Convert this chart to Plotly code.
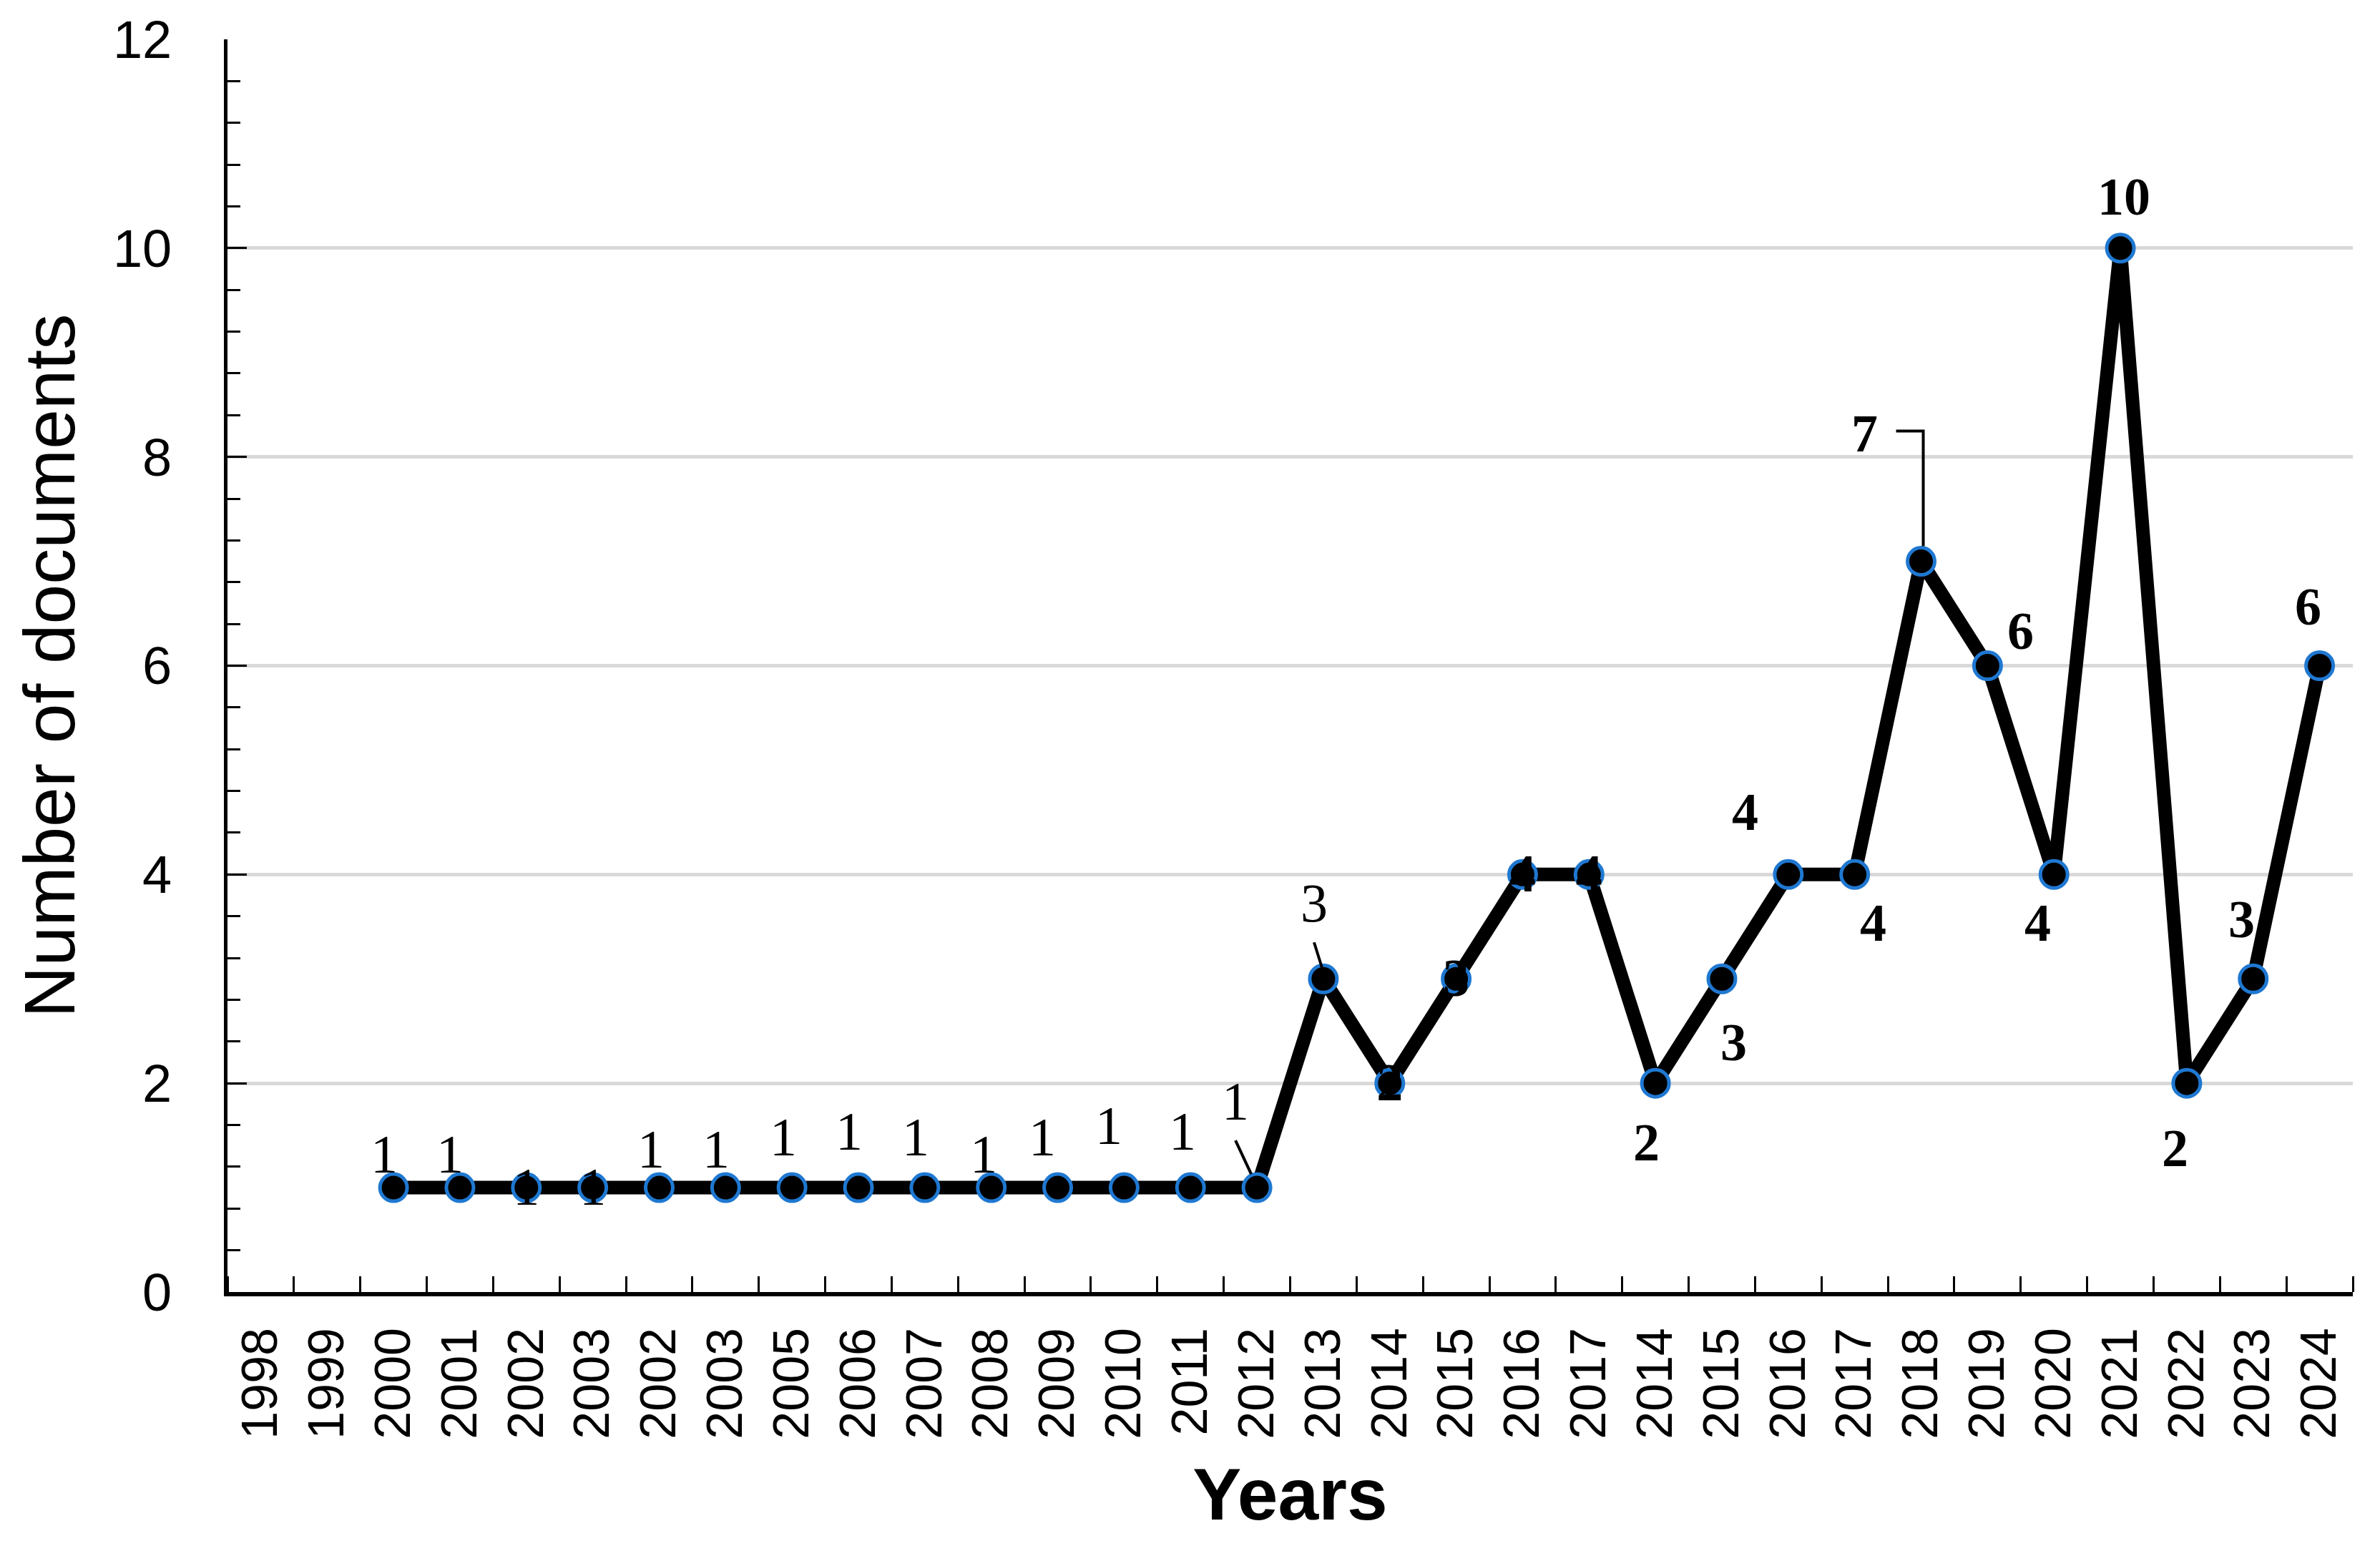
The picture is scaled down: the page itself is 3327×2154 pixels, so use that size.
import plotly.graph_objects as go

# ---------------- data ----------------
year_labels = ["1998", "1999", "2000", "2001", "2002", "2003", "2002", "2003",
               "2005", "2006", "2007", "2008", "2009", "2010", "2011", "2012",
               "2013", "2014", "2015", "2016", "2017", "2014", "2015", "2016",
               "2017", "2018", "2019", "2020", "2021", "2022", "2023", "2024"]
documents = [None, None, 1, 1, 1, 1, 1, 1, 1, 1, 1, 1, 1, 1, 1, 1,
             3, 2, 3, 4, 4, 2, 3, 4, 4, 7, 6, 4, 10, 2, 3, 6]
y_ticks = [0, 2, 4, 6, 8, 10, 12]

# ---------------- label styling (pixel offsets, screen coords: +dy = down) ----------------
# None -> label hidden behind the marker
label_offsets = [None, None, (-13, -47), (-14, -47), None, None, (-11, -54), (-13, -54),
                 (-12, -71), (-13, -79), (-13, -71), (-11, -47), (-22, -71), (-21, -87),
                 (-11, -79), (-30, -121), (-13, -106), None, None, None, None,
                 (-13, 83), (17, 89), (-60, -87), (26, 68), (-79, -179), (46, -49),
                 (-23, 68), (5, -72), (-16, 91), (-16, -83), (-16, -83)]
label_bold = [False] * 17 + [True] * 15

xs = list(range(len(year_labels)))
Y_RANGE = [0, 12]
HIDDEN_SHIFT = 0.035  # small downward nudge of hidden labels (data units)

SERIF = "Liberation Serif, Times New Roman, serif"
SANS = "Liberation Sans, Arial, sans-serif"

fig = go.Figure()

# hidden labels (drawn under the line/markers)
hid_x, hid_y, hid_t = [], [], []
for i, (v, off) in enumerate(zip(documents, label_offsets)):
    if v is not None and off is None:
        hid_x.append(xs[i]); hid_y.append(v)
        hid_t.append(f"<b>{v}</b>" if label_bold[i] else str(v))
fig.add_trace(go.Scatter(
    x=hid_x, y=hid_y, mode="text", text=hid_t, textposition="middle center",
    textfont=dict(family=SERIF, size=74, color="black"), showlegend=False,
    hoverinfo="skip", yaxis="y2"))

fig.add_trace(go.Scatter(
    x=xs, y=documents, mode="lines+markers",
    line=dict(color="black", width=19),
    marker=dict(size=38, color="black", line=dict(color="#1f78d1", width=5)),
    showlegend=False))

annotations = []
for i, (v, off) in enumerate(zip(documents, label_offsets)):
    if v is None or off is None:
        continue
    dx, dy = off
    txt = f"<b>{v}</b>" if label_bold[i] else str(v)
    annotations.append(dict(
        x=xs[i], y=v, xref="x", yref="y", text=txt, showarrow=False,
        xshift=dx, yshift=-dy, xanchor="center", yanchor="middle",
        font=dict(family=SERIF, size=76 if not label_bold[i] else 74, color="black")))

# y-axis title
annotations.append(dict(
    x=-0.0841, y=0.5, xref="paper", yref="paper", text="Number of documents",
    textangle=-90, showarrow=False, xanchor="center", yanchor="middle",
    font=dict(family=SANS, size=100, color="black")))

# leader lines, anchored at data points with pixel offsets (plotly: +y = up)
shapes = []
def leader(i, path):
    shapes.append(dict(
        type="path", xref="x", yref="y", xsizemode="pixel", ysizemode="pixel",
        xanchor=xs[i], yanchor=documents[i], path=path,
        line=dict(color="black", width=4)))

leader(15, "M-30,66 L-8,19")
leader(16, "M-13,51 L-2,16")
leader(25, "M-35,182 L3,182 L3,21")

fig.update_layout(
    width=3327, height=2154,
    margin=dict(l=318, r=38, t=55, b=348),
    paper_bgcolor="white", plot_bgcolor="white",
    annotations=annotations, shapes=shapes,
    xaxis=dict(
        range=[-0.5, len(year_labels) - 0.5],
        tickmode="array", tickvals=xs, ticktext=year_labels,
        tickangle=-90, ticks="", showgrid=False, zeroline=False,
        showline=True, linecolor="black", linewidth=6,
        tickfont=dict(family=SANS, size=70, color="black"),
        ticklabelstandoff=16,
        minor=dict(ticks="inside", tick0=-0.5, dtick=1, ticklen=22,
                   tickwidth=3, tickcolor="black", showgrid=False),
        title=dict(text="<b>Years</b>", standoff=44,
                   font=dict(family=SANS, size=102, color="black")),
    ),
    yaxis=dict(
        range=Y_RANGE, tickmode="array", tickvals=y_ticks,
        ticks="inside", ticklen=27, tickwidth=3, tickcolor="black",
        showgrid=True, gridcolor="#d9d9d9", gridwidth=5, zeroline=False,
        showline=True, linecolor="black", linewidth=5,
        tickfont=dict(family=SANS, size=74, color="black"),
        ticklabelstandoff=58,
        minor=dict(ticks="inside", dtick=0.4, tick0=0, ticklen=18,
                   tickwidth=3, tickcolor="black", showgrid=False),
    ),
    yaxis2=dict(
        overlaying="y", visible=False,
        range=[Y_RANGE[0] + HIDDEN_SHIFT, Y_RANGE[1] + HIDDEN_SHIFT],
    ),
)

fig.write_html("out.html", config={"displayModeBar": False},
               post_script="document.body.style.margin='0';")
